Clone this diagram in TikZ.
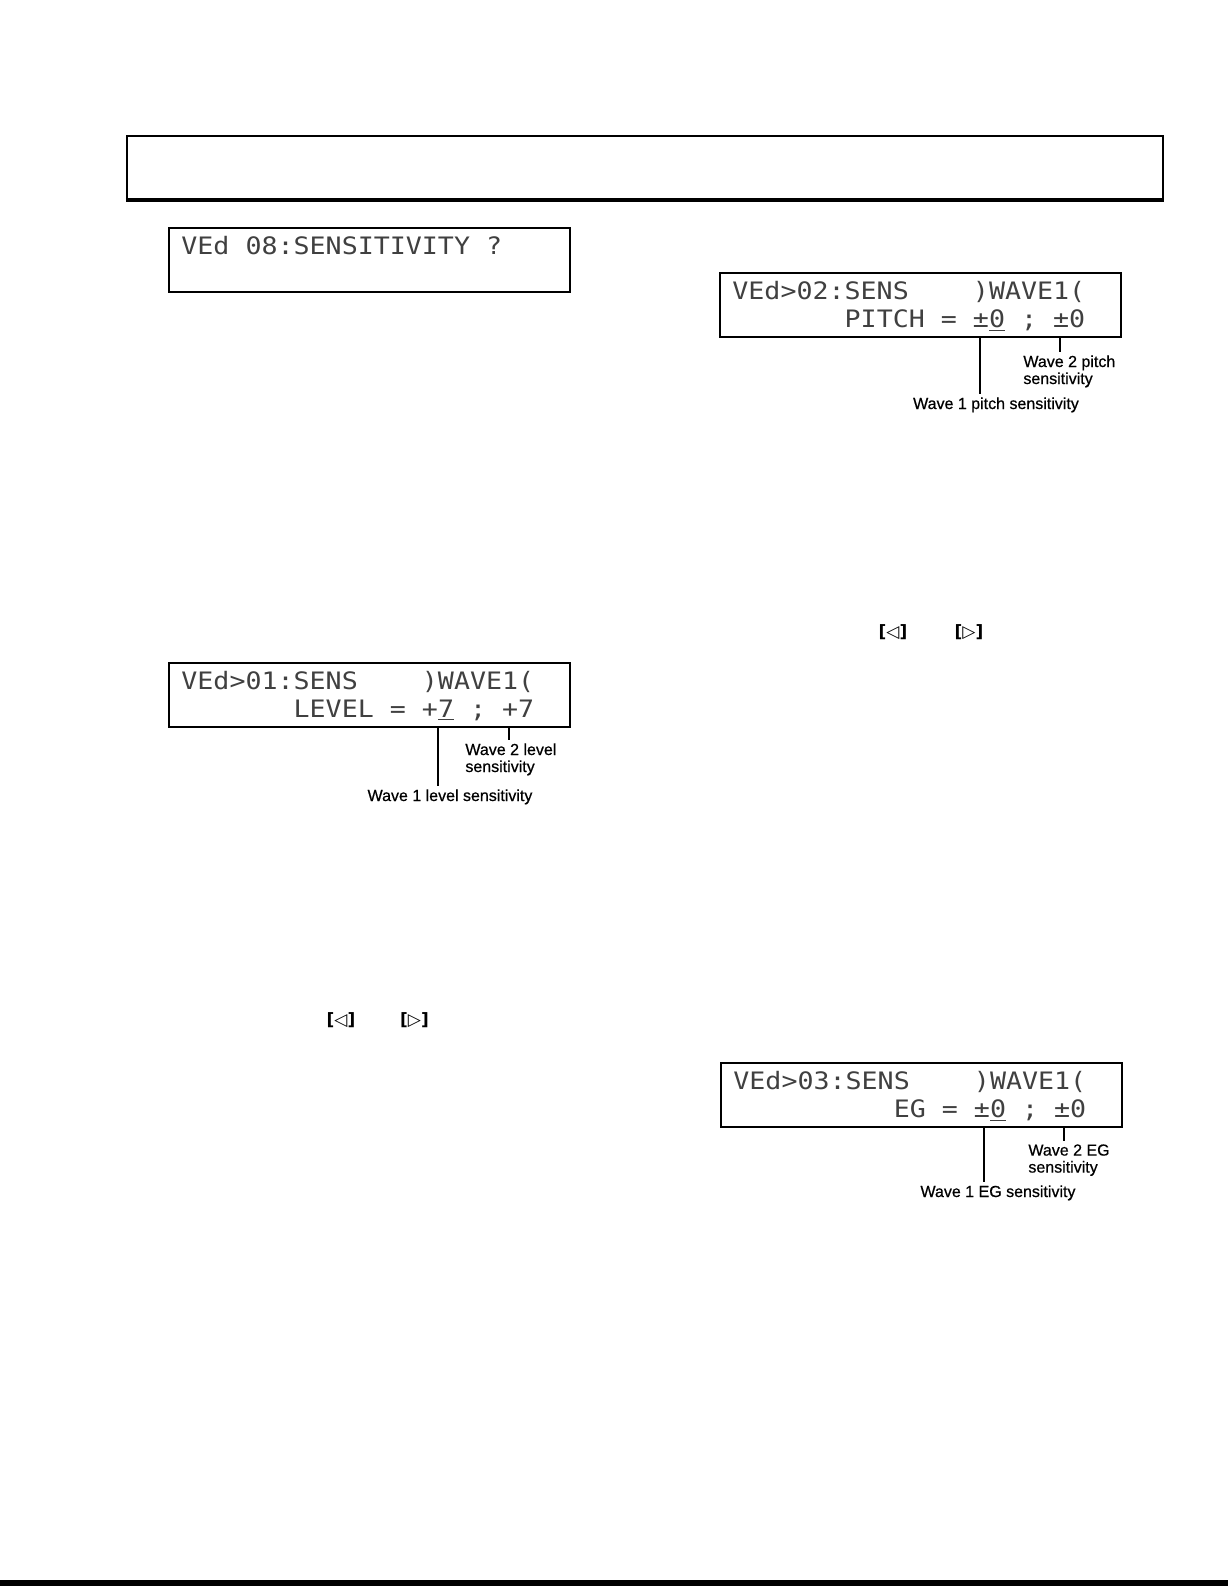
\documentclass[tikz,border=0pt]{standalone}
\usepackage{fontspec}
\setmainfont{Liberation Sans}
\newfontfamily\lcdfamily[FakeStretch=1.11]{DejaVu Sans Mono}
\newfontfamily\labelfamily[FakeBold=0.6]{Liberation Sans}
\newfontfamily\btnfamily{DejaVu Sans}
\usetikzlibrary{positioning}
\tikzset{
  panel/.style={
    rectangle, draw=black, line width=1.2pt, inner sep=0pt,
    minimum width=518pt, minimum height=31.5pt,
  },
  panel edge/.style={
    line width=1.8pt, draw=black,
  },
  lcd/.style={
    rectangle, draw=black, line width=1pt, anchor=north west,
    minimum width=200.5pt, minimum height=32pt, inner sep=0pt,
  },
  lcdrow/.style={
    anchor=base west, inner sep=0pt, text=black!75,
    font=\lcdfamily\fontsize{12}{14}\selectfont,
  },
  leader/.style={
    line width=0.6pt, draw=black,
  },
  tlabel/.style={
    font=\labelfamily\fontsize{8}{8.5}\selectfont, align=left, inner sep=1.5pt,
  },
  btn/.style={
    font=\btnfamily\bfseries\fontsize{8.5}{10}\selectfont, inner sep=0pt,
  }
}
\newcommand{\lcdcur}[1]{\underline{#1}}

\begin{document}
\begin{tikzpicture}[x=0.5pt, y=-0.5pt]

  \useasboundingbox (0,0) rectangle (1228,1586);

  \node[panel] (hdr) at (645,167.5) {};
  \draw[panel edge] (hdr.south west) -- (hdr.south east);

  % displays
  \node[lcd] (lcdA) at (168,227)  {};
  \node[lcd] (lcdB) at (719,272)  {};
  \node[lcd] (lcdC) at (168,662)  {};
  \node[lcd] (lcdD) at (720,1062) {};

  \node[lcdrow] (rowA1) at (181,254.5)  {VEd~08:SENSITIVITY~?};
  \node[lcdrow] (rowB1) at (732,299.5)  {VEd>02:SENS~~~~)WAVE1(};
  \node[lcdrow] (rowB2) at (732,327)    {~~~~~~~PITCH~=~±\lcdcur{0}~;~±0};
  \node[lcdrow] (rowC1) at (181,689.5)  {VEd>01:SENS~~~~)WAVE1(};
  \node[lcdrow] (rowC2) at (181,717)    {~~~~~~~LEVEL~=~+\lcdcur{7}~;~+7};
  \node[lcdrow] (rowD1) at (733,1089.5) {VEd>03:SENS~~~~)WAVE1(};
  \node[lcdrow] (rowD2) at (733,1117)   {~~~~~~~~~~EG~=~±\lcdcur{0}~;~±0};

  % labels
  \node[tlabel, anchor=north]      (lblB1) at (996,394)   {Wave 1 pitch sensitivity};
  \node[tlabel, anchor=north west] (lblB2) at (1020,352)  {Wave 2 pitch\\sensitivity};
  \node[tlabel, anchor=north]      (lblC1) at (450,786)   {Wave 1 level sensitivity};
  \node[tlabel, anchor=north west] (lblC2) at (462,740)   {Wave 2 level\\sensitivity};
  \node[tlabel, anchor=north]      (lblD1) at (998,1182)  {Wave 1 EG sensitivity};
  \node[tlabel, anchor=north west] (lblD2) at (1025,1141) {Wave 2 EG\\sensitivity};

  \coordinate (pB1) at (980,0);
  \coordinate (pB2) at (1060,0);
  \coordinate (pC1) at (438,0);
  \coordinate (pC2) at (509,0);
  \coordinate (pD1) at (984,0);
  \coordinate (pD2) at (1064,0);

  \draw[leader] (pB1 |- lcdB.south) -- (pB1 |- lblB1.north);
  \draw[leader] (pB2 |- lcdB.south) -- (pB2 |- lblB2.north);
  \draw[leader] (pC1 |- lcdC.south) -- (pC1 |- lblC1.north);
  \draw[leader] (pC2 |- lcdC.south) -- (pC2 |- lblC2.north);
  \draw[leader] (pD1 |- lcdD.south) -- (pD1 |- lblD1.north);
  \draw[leader] (pD2 |- lcdD.south) -- (pD2 |- lblD2.north);

  % cursor keys
  \node[btn] (btnLa) at (893,632)    {[◁]};
  \node[btn] (btnRa) at (969,632)    {[▷]};
  \node[btn] (btnLb) at (341,1020)   {[◁]};
  \node[btn] (btnRb) at (414.5,1020) {[▷]};

  \fill[black] (0,1580) rectangle (1228,1586);

\end{tikzpicture}
\end{document}
